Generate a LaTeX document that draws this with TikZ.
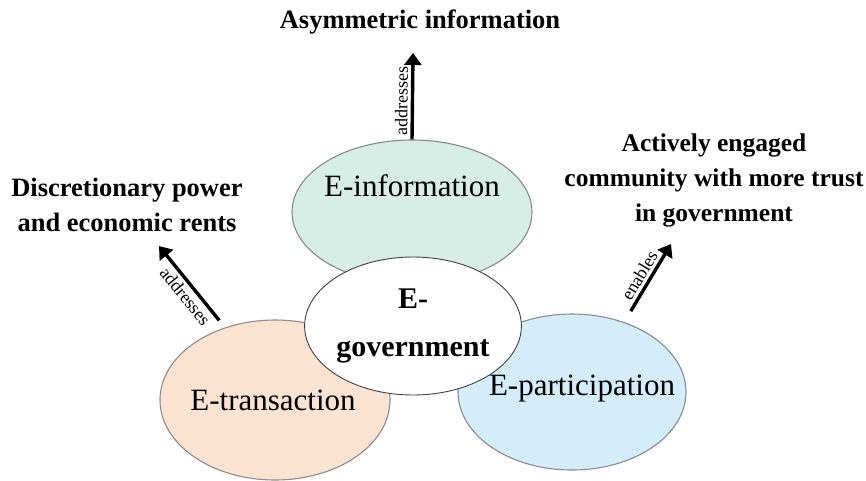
\documentclass[tikz,border=0pt]{standalone}
\usepackage{fontspec}
\setmainfont{Liberation Serif}
\usepackage{tikz}
\usetikzlibrary{arrows.meta, positioning, calc, shapes.geometric}

\definecolor{infogreen}{HTML}{D6EEE5}
\definecolor{transorange}{HTML}{FBE3D1}
\definecolor{partblue}{HTML}{D4EDFB}
\definecolor{rimgray}{HTML}{8A8A8A}

\begin{document}
\begin{tikzpicture}[
          x=1pt, y=-1pt,
          pillar/.style={ellipse, draw=rimgray, line width=1.1pt, inner sep=0pt},
          pillartext/.style={font=\fontsize{31}{36}\selectfont},
          core/.style={ellipse, draw=black!75, line width=0.9pt, fill=white, inner sep=0pt,
                       align=center, font=\bfseries\fontsize{30}{48}\selectfont},
          outcome/.style={align=center, font=\bfseries\fontsize{26.5}{34.5}\selectfont},
          arr/.style={-{Triangle[width=17pt,length=12pt]}, line width=3.4pt},
          tag/.style={font=\fontsize{18}{20}\selectfont, inner sep=3pt}
        ]
        \useasboundingbox (0,0) rectangle (866,480);

        % the three pillars
        \node [pillar, fill=infogreen, minimum width=240pt, minimum height=144pt,
               label={[pillartext, shift={(0,-26)}]center:E-information}]
              (info) at (412,212) {};
        \node [pillar, fill=transorange, minimum width=230pt, minimum height=160pt,
               label={[pillartext, shift={(-2,0)}]center:E-transaction}]
              (trans) at (275,400) {};
        \node [pillar, fill=partblue, minimum width=228pt, minimum height=156pt,
               label={[pillartext, shift={(10,-3)}]center:E-participation}]
              (part) at (572,392) {};

        % e-government in the middle
        \node [core, minimum width=204pt, minimum height=138pt] (gov) at (413,326)
              {E-\\government};

        % outcomes
        \node [outcome] (asym) at (420,22) {Asymmetric information};
        \node [outcome] (rents) at (127,205) {Discretionary power\\and economic rents};
        \node [outcome, font=\bfseries\fontsize{25.5}{35}\selectfont] (trust) at (714,180)
              {Actively engaged\\community with more trust\\in government};

        % arrow tips
        \coordinate (asymtip) at (413,53);
        \coordinate (rentstip) at (159,246);
        \coordinate (trusttip) at (671,244);

        \draw [arr] (info.north) -- node [tag, above, sloped, pos=0.44] {addresses} (asymtip);
        \draw [arr] ($(trans.center)!1.1!(trans.125)$) -- node [tag, below, sloped, pos=0.42] {addresses} (rentstip);
        \draw [arr] ($(part.center)!1.15!(part.54)$) -- node [tag, above, sloped, pos=0.45] {enables} (trusttip);
\end{tikzpicture}
\end{document}
